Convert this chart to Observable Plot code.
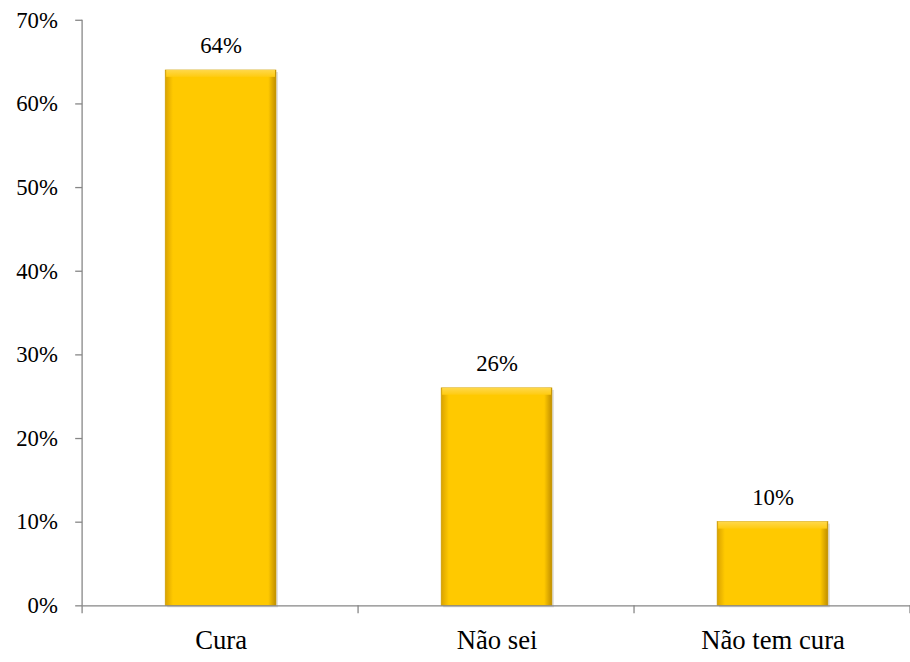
<!DOCTYPE html>
<html>
<head>
<meta charset="utf-8">
<script src="https://cdn.jsdelivr.net/npm/d3@7"></script>
<script src="https://cdn.jsdelivr.net/npm/@observablehq/plot@0.6"></script>
<style>
  html, body { margin: 0; padding: 0; background: #fff; overflow: hidden; width: 910px; height: 662px; }
  #chart svg { display: block; }
</style>
</head>
<body>
<div id="chart"></div>
<script>
const categories = ["Cura", "Não sei", "Não tem cura"];
const values = [0.64, 0.26, 0.10];
const yTicks = [0, 0.1, 0.2, 0.3, 0.4, 0.5, 0.6, 0.7];

const data = categories.map((c, i) => ({category: c, value: values[i]}));

const FONT = "'Liberation Serif', Tinos, 'Times New Roman', Times, 'DejaVu Serif', 'Noto Serif', serif";
const paddingInner = 0.6, paddingOuter = 0.3;

// Custom mark: y-axis line and x category boundary ticks
function axisLines(index, scales, vals, dims) {
  const g = d3.create("svg:g");
  const y = scales.y;
  const x0 = dims.marginLeft, x1 = dims.width - dims.marginRight;
  const step = (x1 - x0) / categories.length;
  const bounds = d3.range(categories.length + 1).map(i => x0 + i * step);
  const y0 = y(0);
  g.selectAll("line.b").data(bounds).join("line")
    .attr("x1", d => d).attr("x2", d => d)
    .attr("y1", y0).attr("y2", y0 + 8)
    .attr("stroke", "#868686").attr("stroke-width", 1.3);
  g.append("line")
    .attr("x1", x0).attr("x2", x0)
    .attr("y1", y(yTicks[yTicks.length - 1])).attr("y2", y0)
    .attr("stroke", "#868686").attr("stroke-width", 1.3);
  return g.node();
}

const chart = Plot.plot({
  width: 920,
  height: 662,
  marginLeft: 83,
  marginRight: 0,
  marginTop: 20,
  marginBottom: 50,
  style: {background: "#fff", fontFamily: FONT},
  x: {domain: categories, paddingInner, paddingOuter, label: null},
  y: {domain: [0, 0.7], label: null},
  marks: [
    Plot.axisY({ticks: yTicks, tickFormat: d3.format(".0%"), tickSize: 7, tickPadding: 18, fontSize: 23, fontFamily: FONT, stroke: "#868686", strokeWidth: 1.3, fill: "#000"}),
    Plot.axisX({tickSize: 0, tickPadding: 24, fontSize: 27, fontFamily: FONT, fill: "#000"}),
    // shadow
    Plot.barY(data, {x: "category", y: "value", fill: "#000", fillOpacity: 0.12, dx: 2, dy: 2}),
    Plot.barY(data, {x: "category", y: "value", fill: "url(#barSide)", stroke: "#C99A00", strokeWidth: 0.6}),
    // top bevel
    Plot.barY(data, {x: "category", y1: "value", y2: "value", insetBottom: -7, insetLeft: 1, insetRight: 1, fill: "url(#barTop)"}),
    Plot.ruleY([0], {stroke: "#868686", strokeWidth: 1.3}),
    axisLines,
    Plot.text(data, {x: "category", y: "value", text: d => d3.format(".0%")(d.value), dy: -25, fontSize: 23, fontFamily: FONT, fill: "#000"})
  ]
});

d3.select(chart).selectAll("text").attr("font-family", FONT).style("font-family", FONT);

// gradient definitions
const defs = d3.select(chart).insert("defs", ":first-child");
const sideGrad = defs.append("linearGradient").attr("id", "barSide").attr("x1", 0).attr("x2", 1).attr("y1", 0).attr("y2", 0);
sideGrad.append("stop").attr("offset", "0%").attr("stop-color", "#D9A200");
sideGrad.append("stop").attr("offset", "7%").attr("stop-color", "#FFC900");
sideGrad.append("stop").attr("offset", "93%").attr("stop-color", "#FFC900");
sideGrad.append("stop").attr("offset", "100%").attr("stop-color", "#C08E00");
const topGrad = defs.append("linearGradient").attr("id", "barTop").attr("x1", 0).attr("x2", 0).attr("y1", 0).attr("y2", 1);
topGrad.append("stop").attr("offset", "0%").attr("stop-color", "#FFD84A");
topGrad.append("stop").attr("offset", "100%").attr("stop-color", "#FFCB10");

document.getElementById("chart").appendChild(chart);
</script>
</body>
</html>
